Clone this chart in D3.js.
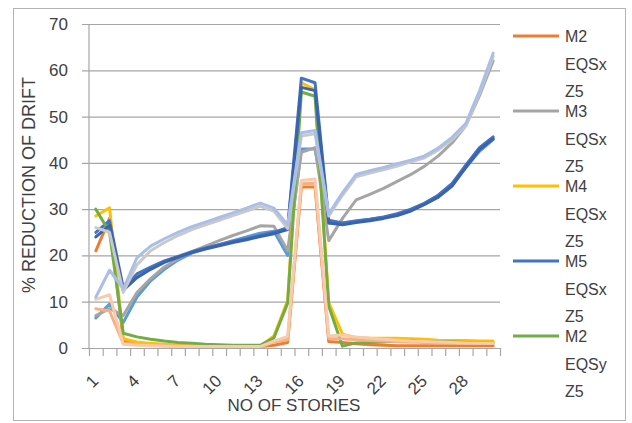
<!DOCTYPE html>
<html>
<head>
<meta charset="utf-8">
<script src="https://cdn.jsdelivr.net/npm/d3@7/dist/d3.min.js"></script>
<style>
  html, body { margin: 0; padding: 0; background: #ffffff; }
  svg { display: block; font-family: "Liberation Sans", Arial, sans-serif; }
</style>
</head>
<body>
<svg id="chart" width="632" height="423"></svg>
<script>
// Storey numbers along the x axis
const stories = [1, 2, 3, 4, 5, 6, 7, 8, 9, 10, 11, 12, 13, 14, 15,
                 16, 17, 18, 19, 20, 21, 22, 23, 24, 25, 26, 27, 28, 29, 30];
const xTickLabels = [1, 4, 7, 10, 13, 16, 19, 22, 25, 28];
const yTicks = [0, 10, 20, 30, 40, 50, 60, 70];

// % reduction of drift per storey, one array per model / load case
const m1EQSx = [6.5, 9.5, 5.5, 11, 14.5, 17, 19, 20.5, 21.5, 22.3, 23.2, 24, 24.8, 25.2, 20,
                43, 43, 27, 27, 27.5, 27.8, 28.2, 28.8, 29.8, 31.2, 33, 35.5, 39, 42.5, 45];
const m2EQSx = [21, 28, 1.5, 1, 0.7, 0.5, 0.4, 0.3, 0.3, 0.3, 0.3, 0.3, 0.3, 0.6, 1.2,
                34.8, 34.8, 1.4, 1.2, 0.9, 0.7, 0.6, 0.5, 0.5, 0.5, 0.5, 0.5, 0.5, 0.5, 0.5];
const m3EQSx = [7, 8.5, 7, 12, 15, 17.5, 19.3, 20.8, 22, 23.2, 24.3, 25.3, 26.4, 26.3, 21,
                42.3, 43.3, 23.2, 28, 32, 33.2, 34.5, 36, 37.5, 39.3, 41.5, 44.3, 48, 54.5, 62];
const m4EQSx = [28.5, 30.3, 2, 1.3, 1, 0.8, 0.6, 0.5, 0.5, 0.4, 0.4, 0.4, 0.4, 2.6, 10.3,
                57.3, 55.8, 9.8, 3, 2.2, 2.1, 2.1, 2.1, 2, 1.9, 1.7, 1.6, 1.6, 1.5, 1.5];
const m5EQSx = [25, 27.5, 13, 16, 17.5, 18.8, 19.8, 20.8, 21.6, 22.3, 23, 23.6, 24.3, 25, 26,
                58.3, 57.3, 27.6, 27, 27.4, 27.8, 28.3, 29, 30, 31.3, 33, 35.5, 39.5, 43.3, 45.6];
const m2EQSy = [30, 25, 3.2, 2.4, 1.9, 1.5, 1.2, 1, 0.8, 0.7, 0.6, 0.6, 0.6, 2.2, 9.7,
                55.3, 54.4, 9, 0.4, 1.1, 1.2, 1.3, 1.5, 1.5, 1.4, 1.3, 1.3, 1.2, 1.1, 1.1];
const m5EQSxZ4 = [24, 26.5, 12.5, 15.2, 17, 18.5, 19.6, 20.6, 21.4, 22.1, 22.8, 23.4, 24.1, 24.7, 25.6,
                  56.3, 55.6, 27, 26.6, 27.1, 27.5, 28, 28.6, 29.6, 31, 32.6, 35, 39, 42.8, 45.2];
const m3EQSy = [8.5, 8, 1, 0.8, 0.6, 0.5, 0.4, 0.4, 0.3, 0.3, 0.3, 0.3, 0.3, 1.3, 1.8,
                35.5, 35.6, 2, 2, 1.8, 1.6, 1.5, 1.4, 1.3, 1.2, 1.1, 1, 1, 1, 1];
const m4EQSy = [26, 25, 12, 18, 21, 22.8, 24.3, 25.6, 26.6, 27.6, 28.6, 29.6, 30.6, 29.6, 25.8,
                45.8, 46.3, 28.5, 33, 37, 37.8, 38.5, 39.3, 40.2, 41.1, 42.8, 45, 48, 55, 63];
const m5EQSy = [10.5, 11.5, 0.8, 0.6, 0.5, 0.4, 0.3, 0.3, 0.3, 0.3, 0.3, 0.3, 0.3, 1.5, 2.5,
                36.2, 36.5, 2.6, 2.8, 2.4, 2.1, 1.9, 1.7, 1.5, 1.4, 1.3, 1.2, 1.1, 1, 1];
const m1EQSy = [11, 16.8, 12.8, 19.5, 22, 23.6, 25, 26.2, 27.2, 28.2, 29.2, 30.2, 31.3, 30.2, 26.6,
                46.5, 47, 29, 33.5, 37.5, 38.3, 39, 39.8, 40.6, 41.5, 43.2, 45.5, 48.5, 55.5, 63.7];

const seriesNames  = ["M1 EQSx Z5", "M2 EQSx Z5", "M3 EQSx Z5", "M4 EQSx Z5", "M5 EQSx Z5",
                      "M2 EQSy Z5", "M5 EQSx Z4", "M3 EQSy Z5", "M4 EQSy Z5", "M5 EQSy Z5", "M1 EQSy Z5"];
const seriesValues = [m1EQSx, m2EQSx, m3EQSx, m4EQSx, m5EQSx, m2EQSy, m5EQSxZ4, m3EQSy, m4EQSy, m5EQSy, m1EQSy];
const seriesColors = ["#5B9BD5", "#ED7D31", "#A5A5A5", "#FFC000", "#4472C4",
                      "#70AD47", "#3A63AE", "#F4B183", "#C9C9C9", "#F8CBAD", "#A9BFE6"];
const legendNames  = ["M2 EQSx Z5", "M3 EQSx Z5", "M4 EQSx Z5", "M5 EQSx Z5", "M2 EQSy Z5"];

const svg = d3.select("#chart");
const textColor = "#404040";
const gridColor = "#A6A6A6";

// chart frame
svg.append("rect")
  .attr("x", 13.5).attr("y", 8.5).attr("width", 612).attr("height", 412)
  .attr("fill", "#ffffff").attr("stroke", "#B3B3B3").attr("stroke-width", 1);

const plot = { left: 89, right: 500, top: 24, bottom: 348 };

// categories sit in the middle of equal-width slots
const x = d3.scaleLinear().domain([0.5, 30.5]).range([plot.left, plot.right]);
const y = d3.scaleLinear().domain([0, 70]).range([plot.bottom, plot.top]);

// horizontal gridlines with outside tick stubs
svg.append("g")
  .attr("transform", `translate(${plot.left},0)`)
  .call(d3.axisLeft(y).tickValues(yTicks).tickSize(-(plot.right - plot.left)).tickSizeOuter(0).tickFormat(""))
  .call(g => g.select(".domain").remove())
  .call(g => g.selectAll(".tick line").attr("stroke", gridColor).attr("stroke-width", 1.2)
                 .attr("x1", -7).attr("x2", plot.right - plot.left));

// y tick labels
svg.append("g").selectAll("text")
  .data(yTicks).join("text")
  .attr("x", 68).attr("y", d => y(d) + 6)
  .attr("text-anchor", "end")
  .attr("font-size", 17).attr("fill", textColor)
  .text(d => d);

// vertical value-axis line
svg.append("line")
  .attr("x1", plot.left).attr("x2", plot.left)
  .attr("y1", plot.top).attr("y2", plot.bottom)
  .attr("stroke", gridColor).attr("stroke-width", 1.2);

// category axis with tick marks between storeys
const boundaries = d3.range(0, stories.length + 1).map(i => i + 0.5);
svg.append("g")
  .attr("transform", `translate(0,${plot.bottom})`)
  .call(d3.axisBottom(x).tickValues(boundaries).tickSize(8).tickSizeOuter(0).tickFormat(""))
  .call(g => g.select(".domain").attr("stroke", gridColor).attr("stroke-width", 1.2))
  .call(g => g.selectAll(".tick line").attr("stroke", gridColor).attr("stroke-width", 1.2));

// rotated storey labels
svg.append("g").selectAll("text")
  .data(xTickLabels).join("text")
  .attr("transform", d => `translate(${x(d) + 3.5},382) rotate(-45)`)
  .attr("text-anchor", "end")
  .attr("font-size", 17).attr("fill", textColor)
  .text(d => d);

// data lines
const line = d3.line()
  .x((v, i) => x(stories[i]))
  .y(v => y(v));

svg.append("g")
  .selectAll("path")
  .data(seriesValues.map((values, i) => ({ name: seriesNames[i], values, color: seriesColors[i] })))
  .join("path")
  .attr("d", d => line(d.values))
  .attr("fill", "none")
  .attr("stroke", d => d.color)
  .attr("stroke-width", 3)
  .attr("stroke-linejoin", "round")
  .attr("stroke-linecap", "round");

// axis titles
svg.append("text")
  .attr("transform", "translate(35,185) rotate(-90)")
  .attr("text-anchor", "middle")
  .attr("font-size", 18).attr("fill", textColor)
  .text("% REDUCTION OF DRIFT");

svg.append("text")
  .attr("x", 294).attr("y", 411)
  .attr("text-anchor", "middle")
  .attr("font-size", 17).attr("fill", textColor)
  .text("NO OF STORIES");

// legend: names wrap one word per line
const legend = svg.append("g");
legendNames.forEach((name, i) => {
  const base = 42 + i * 75;
  const color = seriesColors[seriesNames.indexOf(name)];
  legend.append("line")
    .attr("x1", 513).attr("x2", 559)
    .attr("y1", base - 6).attr("y2", base - 6)
    .attr("stroke", color).attr("stroke-width", 3);
  const t = legend.append("text")
    .attr("x", 565).attr("y", base)
    .attr("font-size", 16).attr("fill", textColor);
  name.split(" ").forEach((word, k) => {
    t.append("tspan").attr("x", 565).attr("y", base + k * 27.5).text(word);
  });
});
</script>
</body>
</html>
